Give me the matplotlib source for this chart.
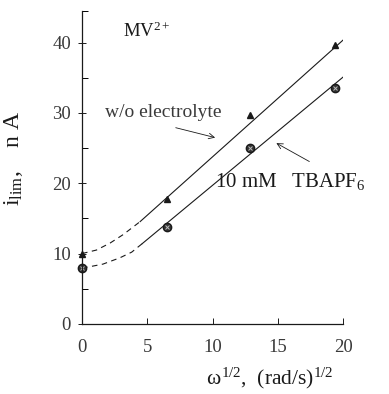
import matplotlib.pyplot as plt
import numpy as np

plt.rcParams['font.family'] = ['Liberation Serif', 'DejaVu Serif']
plt.rcParams['mathtext.fontset'] = 'custom'
plt.rcParams['mathtext.rm'] = 'Liberation Serif'
plt.rcParams['mathtext.it'] = 'Liberation Serif'

# measured points
w_half = [0, 6.5, 12.9, 19.4]
i_no_elec = [10.0, 17.8, 29.7, 39.7]
i_tbapf6 = [8.0, 13.8, 25.0, 33.6]

# hand-drawn guide curves
no_elec_dash_x = [0, 1.1, 2.15, 3.15, 4.45]
no_elec_dash_y = [10.0, 10.5, 11.5, 12.7, 14.55]
no_elec_line_x = [4.45, 21.1]
no_elec_line_y = [14.55, 42.2]

tbapf6_dash_x = [0, 0.5, 1.6, 2.9, 3.8, 4.6]
tbapf6_dash_y = [8.0, 8.1, 8.5, 9.4, 10.2, 11.4]
tbapf6_line_x = [4.6, 21.1]
tbapf6_line_y = [11.4, 36.8]

fig = plt.figure(figsize=(3.89, 3.94), dpi=100)
ax = fig.add_axes([0.211, 0.178, 0.671, 0.794])

ink = '#1a1a1a'
grey = '#3a3a3a'
ax.plot(no_elec_dash_x, no_elec_dash_y, color=ink, lw=0.8, ls=(0, (5, 4)))
ax.plot(no_elec_line_x, no_elec_line_y, color=ink, lw=0.8)
ax.plot(tbapf6_dash_x, tbapf6_dash_y, color=ink, lw=0.8, ls=(0, (5, 4)))
ax.plot(tbapf6_line_x, tbapf6_line_y, color=ink, lw=0.8)

ax.plot(w_half, i_no_elec, ls='none', marker='^', ms=5, color=ink, clip_on=False)
ax.plot(w_half, i_tbapf6, ls='none', marker='o', ms=6, mfc='#333333', mec=ink, clip_on=False)
ax.plot(w_half, i_tbapf6, ls='none', marker='x', ms=3.5, mew=0.7, color='#bbbbbb', clip_on=False)

ax.text(3.1, 40.8, r'MV$^{2+}$', fontsize=13.5, color=ink, va='baseline')
ax.text(1.76, 30.0, 'w/o electrolyte', fontsize=14, color=grey, va='center')
ax.annotate('', xy=(10.4, 26.4), xytext=(6.97, 28.0),
            arrowprops=dict(arrowstyle='->', color=ink, lw=0.6))
ax.text(10.2, 20.3, r'10 mM   TBAPF$_6$', fontsize=15, color=ink, va='center')
ax.annotate('', xy=(14.7, 25.9), xytext=(17.6, 22.9),
            arrowprops=dict(arrowstyle='->', color=ink, lw=0.6))

ax.set_xlim(0, 20)
ax.set_ylim(0, 44.5)
ax.spines['top'].set_visible(False)
ax.spines['right'].set_visible(False)
for s in ['left', 'bottom']:
    ax.spines[s].set_linewidth(0.9)
    ax.spines[s].set_color(ink)

ax.set_xticks([0, 5, 10, 15, 20])
ax.set_yticks([0, 10, 20, 30, 40])
ax.set_yticks([5, 15, 25, 35, 44.5], minor=True)
ax.tick_params(axis='x', direction='in', length=4, width=0.7, pad=11, labelsize=13.5,
               colors=ink, labelcolor=grey)
ax.tick_params(axis='y', which='major', direction='inout', length=6, width=0.7, pad=5,
               labelsize=13.5, colors=ink, labelcolor=grey)
ax.tick_params(axis='y', which='minor', direction='in', length=4, width=0.7)

ax.set_xlabel(r'$\omega^{1/2}$,  (rad/s)$^{1/2}$', fontsize=15.5, color=ink)
ax.xaxis.set_label_coords(0.72, -0.135)
ax.set_ylabel(r'i$_{\rm lim}$,    n A', fontsize=17, color=ink)
ax.yaxis.set_label_coords(-0.22, 0.53)

fig.savefig('out.png', dpi=100)
